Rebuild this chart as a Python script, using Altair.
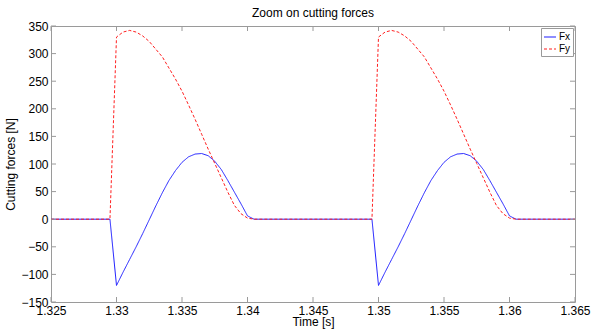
import altair as alt
import pandas as pd

# Time samples [s] (two identical cutting cycles)
times = [
    1.325,
    1.3295, 1.3300, 1.3305, 1.3310, 1.3315, 1.3320, 1.3325, 1.3330, 1.3335, 1.3340,
    1.3345, 1.3350, 1.3355, 1.3360, 1.3365, 1.3370, 1.3375, 1.3380, 1.3385, 1.3390,
    1.3395, 1.3400, 1.3405,
    1.3495, 1.3500, 1.3505, 1.3510, 1.3515, 1.3520, 1.3525, 1.3530, 1.3535, 1.3540,
    1.3545, 1.3550, 1.3555, 1.3560, 1.3565, 1.3570, 1.3575, 1.3580, 1.3585, 1.3590,
    1.3595, 1.3600, 1.3605,
    1.365,
]

fx = [
    0,
    0, -120, -96, -73, -50, -26, -1, 24, 48, 70,
    88, 103, 113, 118, 119, 115, 105, 90, 70, 49,
    28, 6, 0,
    0, -120, -96, -73, -50, -26, -1, 24, 48, 70,
    88, 103, 113, 118, 119, 115, 105, 90, 70, 49,
    28, 6, 0,
    0,
]

fy = [
    0,
    0, 330, 339, 342, 339, 332, 322, 308, 294, 274,
    254, 232, 207, 181, 154, 127, 101, 75, 49, 25,
    10, 2, 0,
    0, 330, 339, 342, 339, 332, 322, 308, 294, 274,
    254, 232, 207, 181, 154, 127, 101, 75, 49, 25,
    10, 2, 0,
    0,
]

series_names = ["Fx", "Fy"]
x_ticks = [1.325, 1.33, 1.335, 1.34, 1.345, 1.35, 1.355, 1.36, 1.365]
y_ticks = [-150, -100, -50, 0, 50, 100, 150, 200, 250, 300, 350]

W, H = 524, 276
FONT = "Liberation Sans"
GREY = "#9a9a9a"

df = pd.DataFrame({
    "t": times + times,
    "force": fx + fy,
    "series": ["Fx"] * len(times) + ["Fy"] * len(times),
})
xt = pd.DataFrame({"t": x_ticks})
yt = pd.DataFrame({"force": y_ticks})

xscale = alt.Scale(domain=[1.325, 1.365], nice=False, zero=False)
yscale = alt.Scale(domain=[-150, 350], nice=False, zero=False)

x_axis = alt.Axis(
    values=x_ticks, format=".4~f", title="Time [s]", ticks=False, domain=False,
    grid=False, labelPadding=3, titlePadding=0, labelFlush=False,
    labelOverlap=False, labelFont=FONT, labelFontSize=12, labelColor="black",
    titleFont=FONT, titleFontSize=12, titleFontWeight="normal", titleColor="black")
y_axis = alt.Axis(
    values=y_ticks, format="d", title="Cutting forces [N]", ticks=False,
    domain=False, grid=False, labelPadding=3, titlePadding=3,
    labelOverlap=False, labelFont=FONT, labelFontSize=12, labelColor="black",
    titleFont=FONT, titleFontSize=12, titleFontWeight="normal", titleColor="black")

legend = alt.Legend(
    title=None, orient="none", legendX=490, legendY=2,
    symbolType="stroke", symbolSize=144, symbolStrokeWidth=1.2,
    labelFont=FONT, labelFontSize=10, labelColor="black", labelOffset=2,
    padding=2, rowPadding=0, strokeColor=GREY, fillColor="white",
)

lines = alt.Chart(df).mark_line(strokeWidth=1).encode(
    x=alt.X("t:Q", scale=xscale, axis=x_axis),
    y=alt.Y("force:Q", scale=yscale, axis=y_axis),
    color=alt.Color("series:N", scale=alt.Scale(domain=series_names, range=["#1f1fff", "#ff1f1f"]), legend=legend),
    strokeDash=alt.StrokeDash("series:N", scale=alt.Scale(domain=series_names, range=[[1, 0], [3, 2]]), legend=legend),
)

tick_bottom = alt.Chart(xt).mark_rule(color=GREY, strokeWidth=1).encode(
    x=alt.X("t:Q", scale=xscale, axis=x_axis), y=alt.value(H), y2=alt.value(H - 5))
tick_top = alt.Chart(xt).mark_rule(color=GREY, strokeWidth=1).encode(
    x=alt.X("t:Q", scale=xscale, axis=x_axis), y=alt.value(0), y2=alt.value(5))
tick_left = alt.Chart(yt).mark_rule(color=GREY, strokeWidth=1).encode(
    y=alt.Y("force:Q", scale=yscale, axis=y_axis), x=alt.value(0), x2=alt.value(5))
tick_right = alt.Chart(yt).mark_rule(color=GREY, strokeWidth=1).encode(
    y=alt.Y("force:Q", scale=yscale, axis=y_axis), x=alt.value(W), x2=alt.value(W - 5))

chart = alt.layer(lines, tick_bottom, tick_top, tick_left, tick_right).properties(
    width=W, height=H,
    title=alt.TitleParams("Zoom on cutting forces", font=FONT, fontSize=12,
                          fontWeight="normal", color="black", offset=0, anchor="middle"),
    padding={"left": 51, "top": 26, "right": 21, "bottom": 29},
    autosize=alt.AutoSizeParams(type="none"),
    background="white",
).configure_view(stroke=GREY, strokeWidth=1)

chart.save("out.html", embed_options={"renderer": "svg", "actions": False})
